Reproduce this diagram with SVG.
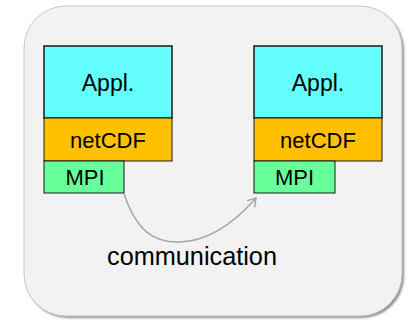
<svg xmlns="http://www.w3.org/2000/svg" width="410" height="320" viewBox="0 0 410 320">
  <style>
    .lbl { font-family: "Liberation Sans", Arial, sans-serif; fill: #000; text-anchor: middle; }
    .appl { fill: #66FFFF; stroke: #1a1a1a; stroke-width: 1.5; }
    .nc { fill: #FFC000; stroke: #1a1a1a; stroke-width: 1; }
    .mpi { fill: #66FF99; stroke: #1a1a1a; stroke-width: 1; }
    .link { fill: none; stroke: #A6A6A6; stroke-width: 1.5; }
  </style>
  <defs>
    <filter id="shadow" x="-5%" y="-5%" width="110%" height="110%">
      <feGaussianBlur stdDeviation="1.2"/>
    </filter>
    <marker id="arrow" markerWidth="12" markerHeight="12" refX="9" refY="5" orient="auto" markerUnits="userSpaceOnUse">
      <path d="M1,0 L9,5 L1,10" fill="none" stroke="#A6A6A6" stroke-width="1.5"/>
    </marker>
  </defs>

  <!-- container panel -->
  <g id="panel">
    <rect x="26" y="8" width="378" height="310" rx="42" fill="#8c8c8c" filter="url(#shadow)"/>
    <rect x="24" y="6" width="378" height="310" rx="42" fill="#F2F2F2" stroke="#C8C8C8" stroke-width="1"/>
  </g>

  <!-- left process stack -->
  <g id="left-appl">
    <rect class="appl" x="44" y="46" width="128" height="72"/>
    <text class="lbl" x="108" y="91" font-size="23">Appl.</text>
  </g>
  <g id="left-netcdf">
    <rect class="nc" x="44" y="118" width="128" height="43"/>
    <text class="lbl" x="108" y="148" font-size="22">netCDF</text>
  </g>
  <g id="left-mpi">
    <rect class="mpi" x="44" y="161" width="80" height="32"/>
    <text class="lbl" x="85" y="185" font-size="22">MPI</text>
  </g>

  <!-- right process stack -->
  <g id="right-appl">
    <rect class="appl" x="254" y="46" width="128" height="72"/>
    <text class="lbl" x="318" y="91" font-size="23">Appl.</text>
  </g>
  <g id="right-netcdf">
    <rect class="nc" x="254" y="118" width="128" height="43"/>
    <text class="lbl" x="318" y="148" font-size="22">netCDF</text>
  </g>
  <g id="right-mpi">
    <rect class="mpi" x="254" y="161" width="81" height="32"/>
    <text class="lbl" x="294.5" y="185" font-size="22">MPI</text>
  </g>

  <!-- connectors -->
  <g id="connectors">
    <path class="link" d="M124,194 C137,232 155,243 180,242 C210,241 235,222 256,198" marker-end="url(#arrow)"/>
  </g>

  <text class="lbl" x="192" y="265" font-size="25" textLength="170" lengthAdjust="spacingAndGlyphs">communication</text>
</svg>
